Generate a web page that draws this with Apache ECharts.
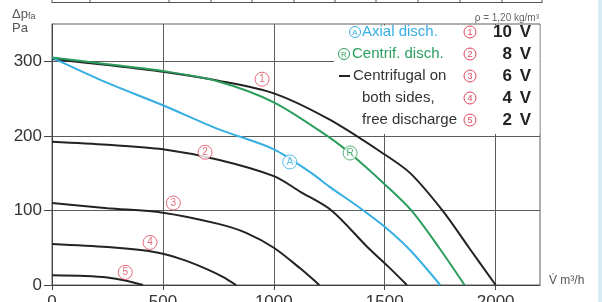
<!DOCTYPE html>
<html>
<head>
<meta charset="utf-8">
<script src="https://cdn.jsdelivr.net/npm/echarts@6/dist/echarts.min.js"></script>
<style>
    html, body { margin: 0; padding: 0; background: #fff; }
    #chart { width: 602px; height: 302px; }
</style>
</head>
<body>
<div id="chart"></div>
<script>
// fan curves, [flow m³/h, pressure Pa]
const curve10V = [[0, 303], [250, 295], [500, 286], [750, 274], [1000, 257], [1250, 222], [1500, 175], [1615, 150], [1760, 100], [1880, 50], [2000, 0]];
const curve8V = [[0, 192], [250, 188], [500, 182], [750, 168], [1000, 146], [1120, 125], [1260, 100], [1425, 50], [1515, 25], [1600, 0]];
const curve6V = [[0, 110], [250, 103], [500, 97], [750, 82], [875, 70], [1000, 50], [1120, 22], [1205, 0]];
const curve4V = [[0, 55], [250, 51], [400, 47], [500, 42], [600, 33], [700, 21], [770, 11], [830, 0]];
const curve2V = [[0, 13], [150, 12], [250, 10], [330, 6], [410, 0]];
const axialDisch = [[0, 305], [250, 271], [500, 241], [750, 209], [1000, 182], [1170, 150], [1250, 132], [1390, 103], [1500, 78], [1620, 45], [1750, 0]];
const centrifDisch = [[0, 305], [250, 296], [500, 287], [750, 273], [1000, 245], [1250, 198], [1350, 175], [1500, 135], [1620, 100], [1745, 50], [1860, 0]];

// circled labels on the curves: [flow, pressure, text]
const curveTags = [[947, 276, "1"], [690, 178, "2"], [547, 110, "3"], [442, 57, "4"], [330, 17, "5"], [1072, 165, "A"], [1344, 177, "R"]];

const flowTicks = [0, 500, 1000, 1500, 2000];
const pressureTicks = [0, 100, 200, 300];

const legendRows = ["Axial disch.", "Centrif. disch.", "Centrifugal on", "both sides,", "free discharge"];
const voltages = ["10", "8", "6", "4", "2"];

const BLACK = "#222";
const CYAN = "#35aee2";
const GREEN = "#2a9d5c";
const RED = "#e0465a";
const GRID = "#5c5c5c";
const FONT = "Liberation Sans, Arial, sans-serif";

const tagColor = (t) => (t === "A" ? CYAN : t === "R" ? GREEN : RED);

const chart = echarts.init(document.getElementById("chart"), null, { renderer: "canvas" });

function line(name, data, color) {
    return {
        name: name,
        type: "line",
        data: data,
        showSymbol: false,
        smooth: 0.3,
        lineStyle: { color: color, width: 2 },
        z: 3,
        silent: true,
    };
}

// legend block on the top right
const legend = [];
legend.push({
    type: "rect",
    shape: { x: 334, y: 25.5, width: 205.5, height: 108.5 },
    style: { fill: "#fff" },
    z: 1,
});
const rowY = [32, 54, 76, 98, 120];
const rowX = [362, 352, 353, 362, 362];
const rowColor = [CYAN, GREEN, "#333", "#333", "#333"];
legendRows.forEach((txt, i) => {
    legend.push({
        type: "text",
        x: rowX[i],
        y: rowY[i],
        style: { text: txt, fill: rowColor[i], font: "15px " + FONT, verticalAlign: "middle" },
        z: 5,
    });
});
[[355, "A", CYAN], [344, "R", GREEN]].forEach(([cx, t, c], i) => {
    legend.push({ type: "circle", shape: { cx: cx, cy: rowY[i], r: 5.5 }, style: { fill: "#fff", stroke: c, lineWidth: 1 }, z: 5 });
    legend.push({ type: "text", x: cx, y: rowY[i] + 0.5, style: { text: t, fill: c, font: "8px " + FONT, align: "center", verticalAlign: "middle" }, z: 6 });
});
legend.push({ type: "line", shape: { x1: 339, y1: 76, x2: 350, y2: 76 }, style: { stroke: BLACK, lineWidth: 2 }, z: 5 });
voltages.forEach((v, i) => {
    legend.push({ type: "circle", shape: { cx: 470, cy: rowY[i], r: 6 }, style: { fill: "#fff", stroke: RED, lineWidth: 1 }, z: 5 });
    legend.push({ type: "text", x: 470, y: rowY[i] + 0.5, style: { text: String(i + 1), fill: RED, font: "9px " + FONT, align: "center", verticalAlign: "middle" }, z: 6 });
    legend.push({ type: "text", x: 512, y: rowY[i], style: { text: v, fill: BLACK, font: "bold 17px " + FONT, align: "right", verticalAlign: "middle" }, z: 5 });
    legend.push({ type: "text", x: 531, y: rowY[i], style: { text: "V", fill: BLACK, font: "bold 17px " + FONT, align: "right", verticalAlign: "middle" }, z: 5 });
});

// remains of the table above the chart
const tableX = [52, 90, 169, 211, 252, 294, 335, 376, 418, 460, 502, 542];
const deco = [
    { type: "line", shape: { x1: 52, y1: 2.5, x2: 542, y2: 2.5 }, style: { stroke: "#555", lineWidth: 1 } },
    { type: "rect", shape: { x: 598, y: 0, width: 4, height: 302 }, style: { fill: "#d8edf3" } },
    {
        type: "text", x: 539, y: 18,
        style: { text: "ρ = 1,20 kg/m³", fill: "#666", font: "10px " + FONT, align: "right", verticalAlign: "middle" },
    },
    {
        type: "text", x: 12, y: 21,
        style: {
            text: "{a|Δp}{s|fa}\n{a|Pa}",
            fill: "#555",
            rich: {
                a: { font: "13px " + FONT, fill: "#555", lineHeight: 14 },
                s: { font: "9px " + FONT, fill: "#555", lineHeight: 14, padding: [6, 0, 0, 0] },
            },
            verticalAlign: "middle",
        },
    },
    {
        type: "text", x: 549, y: 281,
        style: { text: "V\u0307 m³/h", fill: "#555", font: "12px " + FONT, verticalAlign: "middle" },
    },
];
tableX.forEach((x) => {
    deco.push({ type: "line", shape: { x1: x, y1: 0, x2: x, y2: 3 }, style: { stroke: "#555", lineWidth: 1 } });
});

const option = {
    animation: false,
    backgroundColor: "#fff",
    textStyle: { fontFamily: FONT },
    grid: {
        left: 52, right: 62, top: 24, bottom: 17,
        show: true, borderColor: GRID, borderWidth: 1,
        outerBoundsMode: "none",
    },
    xAxis: {
        type: "value",
        min: 0, max: 2200, interval: 250,
        axisLine: { show: true, lineStyle: { color: "#444", width: 1 } },
        axisTick: { show: true, customValues: flowTicks, length: 5, lineStyle: { color: "#444" } },
        axisLabel: {
            customValues: flowTicks, margin: 9, fontSize: 17, color: "#333", fontFamily: FONT,
            formatter: (v) => String(v),
        },
        splitLine: { show: true, lineStyle: { color: GRID, width: 1 } },
    },
    yAxis: {
        type: "value",
        min: 0, max: 350, interval: 50,
        axisLine: { show: true, lineStyle: { color: "#444", width: 1 } },
        axisTick: { show: true, customValues: pressureTicks, length: 8, lineStyle: { color: "#444" } },
        axisLabel: {
            customValues: pressureTicks, margin: 10, fontSize: 17, color: "#333", fontFamily: FONT,
            formatter: (v) => String(v),
        },
        splitLine: { show: true, lineStyle: { color: GRID, width: 1 } },
    },
    graphic: deco.concat(legend),
    series: [
        line("10 V", curve10V, BLACK),
        line("8 V", curve8V, BLACK),
        line("6 V", curve6V, BLACK),
        line("4 V", curve4V, BLACK),
        line("2 V", curve2V, BLACK),
        line("Axial disch.", axialDisch, CYAN),
        line("Centrif. disch.", centrifDisch, GREEN),
        {
            type: "scatter",
            z: 4,
            silent: true,
            symbol: "circle",
            symbolSize: 14,
            data: curveTags.map(([x, y, t]) => ({
                value: [x, y],
                name: t,
                itemStyle: { color: "#fff", borderColor: tagColor(t), borderWidth: 1 },
                label: { color: tagColor(t) },
            })),
            label: {
                show: true,
                position: "inside",
                formatter: (p) => p.name,
                fontSize: 10,
                fontFamily: FONT,
            },
        },
    ],
};

chart.setOption(option);
</script>
</body>
</html>
